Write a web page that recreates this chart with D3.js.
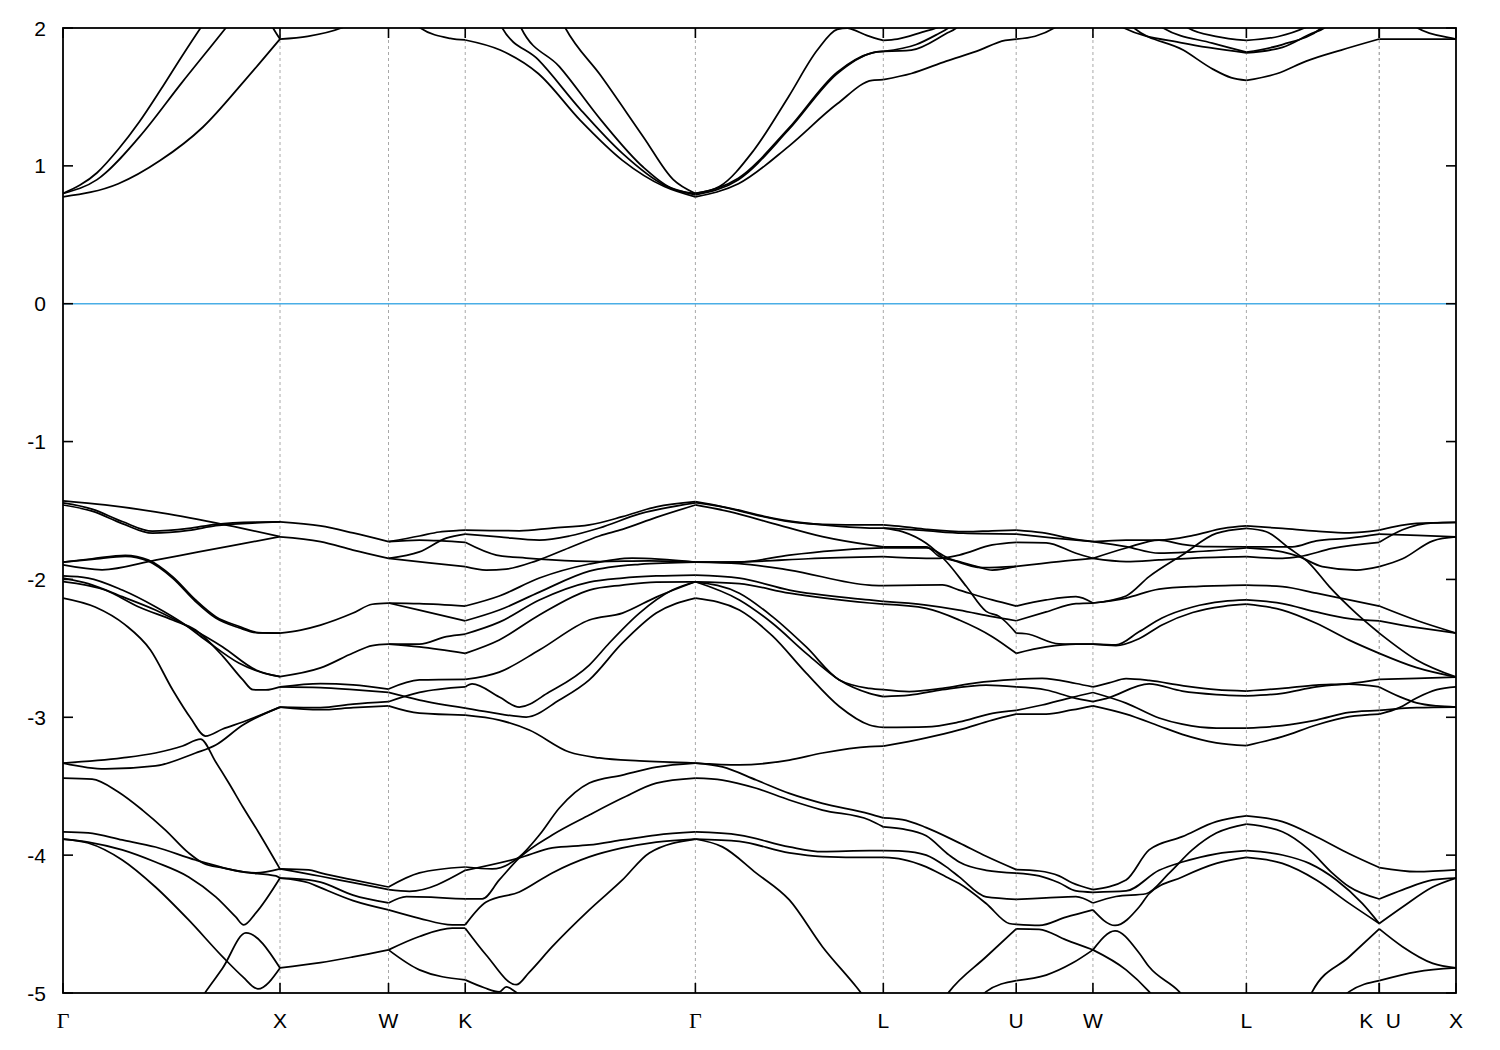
<!DOCTYPE html>
<html><head><meta charset="utf-8">
<script src="https://cdn.jsdelivr.net/npm/d3@7"></script>
<style>html,body{margin:0;padding:0;background:#fff;} svg{display:block;}</style>
</head><body>
<svg id="chart" width="1500" height="1050"></svg>
<script>
// ---- high-symmetry path ----
const kLabels = ["Γ","X","W","K","Γ","L","U","W","L","K","U","X"];
const kPos    = [0, 1, 1.5, 1.8536, 2.9142, 3.7802, 4.3926, 4.7462, 5.4533, 6.0657, 6.0657, 6.4193];
const segPairs = [[0,1],[1,2],[2,3],[3,4],[4,5],[5,6],[6,7],[7,8],[8,9],[10,11]];
const yTicks = [2,1,0,-1,-2,-3,-4,-5];
const fermiLevel = [0];

// ---- valence bands, per segment: lines of [t along segment, E (eV)] ----
const valGX = [
 [[0,-1.43],[.194,-1.46],[.426,-1.51],[.704,-1.59],[1,-1.69]],
 [[0,-1.445],[.134,-1.49],[.273,-1.58],[.412,-1.65],[.579,-1.63],[.704,-1.60],[.889,-1.585],[1,-1.583]],
 [[0,-1.46],[.134,-1.505],[.273,-1.595],[.412,-1.665],[.579,-1.645],[.704,-1.61],[.889,-1.59],[1,-1.583]],
 [[0,-1.895],[.18,-1.93],[.426,-1.86],[.625,-1.80],[.829,-1.74],[1,-1.69]],
 [[0,-1.874],[.134,-1.85],[.287,-1.826],[.394,-1.86],[.505,-1.98],[.611,-2.149],[.704,-2.27],[.810,-2.34],[.9,-2.385],[1,-2.389]],
 [[0,-1.874],[.134,-1.855],[.287,-1.832],[.394,-1.868],[.505,-1.99],[.611,-2.16],[.704,-2.28],[.810,-2.35],[.9,-2.388],[1,-2.389]],
 [[0,-1.975],[.116,-1.99],[.273,-2.077],[.426,-2.198],[.551,-2.316],[.657,-2.439],[.810,-2.606],[.958,-2.693],[1,-2.705]],
 [[0,-1.99],[.116,-2.03],[.273,-2.125],[.426,-2.222],[.579,-2.345],[.736,-2.49],[.889,-2.657],[1,-2.705]],
 [[0,-2.015],[.194,-2.077],[.347,-2.198],[.505,-2.294],[.611,-2.367],[.736,-2.556],[.829,-2.729],[.875,-2.80],[.935,-2.802],[1,-2.78]],
 [[0,-2.135],[.148,-2.20],[.287,-2.33],[.403,-2.512],[.505,-2.80],[.588,-3.005],[.657,-3.136],[.736,-3.085],[.829,-3.034],[1,-2.926]],
 [[0,-3.332],[.194,-3.375],[.426,-3.353],[.611,-3.259],[.704,-3.201],[.829,-3.056],[1,-2.926]],
 [[0,-3.332],[.273,-3.295],[.426,-3.259],[.551,-3.208],[.634,-3.158],[.704,-3.325],[.764,-3.477],[.829,-3.651],[.903,-3.839],[1,-4.10]],
 [[0,-3.441],[.134,-3.448],[.255,-3.542],[.366,-3.673],[.472,-3.818],[.579,-3.984],[.644,-4.057],[.736,-4.093],[.889,-4.129],[1,-4.10]],
 [[0,-3.832],[.116,-3.839],[.273,-3.89],[.426,-3.941],[.611,-4.035],[.829,-4.122],[.981,-4.151],[1,-4.166]],
 [[0,-3.883],[.116,-3.905],[.273,-3.962],[.426,-4.05],[.579,-4.158],[.704,-4.303],[.796,-4.448],[.833,-4.506],[.889,-4.419],[1,-4.166]],
 [[0,-3.883],[.116,-3.912],[.273,-4.035],[.426,-4.231],[.579,-4.47],[.736,-4.738],[.829,-4.883],[.898,-4.97],[1,-4.818]],
 [[.4,-5.5],[.542,-5.25],[.657,-4.992],[.736,-4.818],[.843,-4.564],[1,-4.818]]
];
const valXW = [
 [[0,-1.583],[.373,-1.612],[.673,-1.663],[1,-1.726]],
 [[0,-1.692],[.373,-1.726],[.673,-1.787],[1,-1.847]],
 [[0,-2.389],[.191,-2.367],[.373,-2.331],[.673,-2.244],[.85,-2.18],[1,-2.171]],
 [[0,-2.705],[.373,-2.642],[.673,-2.534],[.85,-2.48],[1,-2.47]],
 [[0,-2.78],[.373,-2.755],[.673,-2.765],[1,-2.795]],
 [[0,-2.78],[.373,-2.785],[.673,-2.80],[1,-2.82]],
 [[0,-2.926],[.373,-2.93],[.673,-2.905],[1,-2.887]],
 [[0,-2.926],[.373,-2.945],[.673,-2.93],[1,-2.917]],
 [[0,-4.10],[.264,-4.107],[.373,-4.129],[.673,-4.18],[1,-4.231]],
 [[0,-4.10],[.373,-4.153],[.673,-4.20],[1,-4.25]],
 [[0,-4.166],[.264,-4.18],[.373,-4.196],[.673,-4.29],[1,-4.347]],
 [[0,-4.166],[.264,-4.20],[.373,-4.236],[.673,-4.33],[1,-4.397]],
 [[0,-4.818],[.373,-4.78],[.673,-4.738],[1,-4.687]]
];
const valWK = [
 [[0,-1.726],[.403,-1.685],[.662,-1.656],[.922,-1.645],[1,-1.642]],
 [[0,-1.726],[.403,-1.714],[.7,-1.72],[1,-1.731]],
 [[0,-1.847],[.403,-1.80],[.753,-1.70],[1,-1.671]],
 [[0,-1.847],[.532,-1.88],[1,-1.907]],
 [[0,-2.171],[.403,-2.175],[1,-2.193]],
 [[0,-2.171],[.403,-2.222],[1,-2.30]],
 [[0,-2.47],[.403,-2.47],[.753,-2.415],[1,-2.396]],
 [[0,-2.47],[.403,-2.49],[1,-2.536]],
 [[0,-2.795],[.403,-2.729],[1,-2.725]],
 [[0,-2.82],[.403,-2.875],[1,-2.933]],
 [[0,-2.887],[.403,-2.82],[1,-2.78]],
 [[0,-2.917],[.403,-2.97],[1,-2.984]],
 [[0,-4.231],[.403,-4.129],[1,-4.086]],
 [[0,-4.25],[.273,-4.262],[1,-4.11]],
 [[0,-4.347],[.234,-4.30],[1,-4.318]],
 [[0,-4.397],[.403,-4.458],[.831,-4.506],[1,-4.506]],
 [[0,-4.687],[.403,-4.59],[.831,-4.53],[1,-4.53]],
 [[0,-4.687],[.403,-4.832],[1,-4.905]]
];
const valKG = [
 [[0,-1.642],[.235,-1.647],[.378,-1.627],[.539,-1.605],[.683,-1.545],[.830,-1.473],[1,-1.436]],
 [[0,-1.671],[.148,-1.692],[.322,-1.714],[.452,-1.685],[.583,-1.627],[.757,-1.525],[1,-1.445]],
 [[0,-1.907],[.091,-1.932],[.178,-1.925],[.309,-1.865],[.452,-1.77],[.583,-1.685],[.683,-1.637],[.830,-1.55],[1,-1.46]],
 [[0,-1.731],[.135,-1.823],[.265,-1.845],[.378,-1.859],[.583,-1.87],[.8,-1.866],[1,-1.874]],
 [[0,-2.193],[.148,-2.12],[.322,-1.99],[.539,-1.888],[.726,-1.845],[1,-1.874]],
 [[0,-2.30],[.148,-2.222],[.322,-2.092],[.539,-1.94],[.757,-1.89],[1,-1.874]],
 [[0,-2.396],[.148,-2.31],[.322,-2.149],[.539,-2.019],[.683,-1.99],[.830,-1.975],[1,-1.968]],
 [[0,-2.536],[.148,-2.439],[.322,-2.258],[.539,-2.077],[.683,-2.041],[.830,-2.019],[1,-2.017]],
 [[0,-2.725],[.148,-2.672],[.322,-2.512],[.539,-2.294],[.683,-2.244],[.830,-2.128],[1,-2.017]],
 [[0,-2.78],[.03,-2.758],[.148,-2.853],[.235,-2.926],[.365,-2.817],[.539,-2.621],[.626,-2.461],[.757,-2.244],[.9,-2.077],[1,-2.017]],
 [[0,-2.933],[.104,-2.962],[.265,-2.998],[.409,-2.875],[.539,-2.729],[.683,-2.461],[.830,-2.244],[1,-2.135]],
 [[0,-2.984],[.148,-3.02],[.278,-3.092],[.452,-3.252],[.583,-3.295],[.757,-3.317],[1,-3.332]],
 [[0,-4.086],[.117,-4.10],[.235,-4.013],[.322,-3.854],[.409,-3.658],[.539,-3.477],[.683,-3.419],[.830,-3.361],[1,-3.332]],
 [[0,-4.11],[.235,-4.02],[.378,-3.948],[.539,-3.926],[.683,-3.89],[.830,-3.854],[1,-3.832]],
 [[0,-4.318],[.074,-4.318],[.148,-4.18],[.235,-4.02],[.378,-3.854],[.539,-3.709],[.683,-3.586],[.830,-3.477],[1,-3.441]],
 [[0,-4.506],[.091,-4.34],[.235,-4.267],[.378,-4.129],[.539,-4.013],[.683,-3.948],[.830,-3.905],[1,-3.883]],
 [[0,-4.53],[.091,-4.724],[.222,-4.94],[.278,-4.85],[.378,-4.664],[.539,-4.397],[.683,-4.18],[.8,-3.984],[1,-3.883]],
 [[0,-4.905],[.083,-4.962],[.148,-4.992],[.178,-4.955],[.213,-4.985],[.278,-5.08]]
];
const valGL = [
 [[0,-1.436],[.144,-1.473],[.324,-1.533],[.5,-1.581],[.676,-1.60],[.926,-1.605],[1,-1.605]],
 [[0,-1.443],[.181,-1.482],[.41,-1.555],[.676,-1.605],[.926,-1.627],[1,-1.627]],
 [[0,-1.46],[.181,-1.508],[.41,-1.593],[.676,-1.69],[.926,-1.75],[1,-1.764]],
 [[0,-1.874],[.234,-1.874],[.5,-1.823],[.926,-1.774],[1,-1.772]],
 [[0,-1.874],[.3,-1.87],[.6,-1.85],[1,-1.835]],
 [[0,-1.874],[.234,-1.885],[.5,-1.932],[.926,-2.041],[1,-2.045]],
 [[0,-1.968],[.234,-1.99],[.5,-2.077],[.926,-2.149],[1,-2.16]],
 [[0,-2.017],[.234,-2.03],[.5,-2.10],[.926,-2.171],[1,-2.18]],
 [[0,-2.017],[.234,-2.10],[.41,-2.27],[.59,-2.49],[.766,-2.729],[.926,-2.79],[1,-2.80]],
 [[0,-2.017],[.234,-2.149],[.41,-2.318],[.59,-2.536],[.766,-2.729],[.926,-2.826],[1,-2.85]],
 [[0,-2.135],[.234,-2.222],[.41,-2.41],[.59,-2.68],[.766,-2.922],[.926,-3.056],[1,-3.074]],
 [[0,-3.332],[.234,-3.346],[.5,-3.31],[.676,-3.259],[.926,-3.213],[1,-3.21]],
 [[0,-3.332],[.144,-3.36],[.324,-3.455],[.5,-3.552],[.676,-3.624],[.926,-3.70],[1,-3.73]],
 [[0,-3.441],[.144,-3.455],[.324,-3.515],[.5,-3.60],[.676,-3.673],[.926,-3.745],[1,-3.795]],
 [[0,-3.832],[.234,-3.854],[.5,-3.94],[.676,-3.975],[.926,-3.968],[1,-3.968]],
 [[0,-3.883],[.234,-3.90],[.5,-3.984],[.676,-4.01],[.926,-4.017],[1,-4.017]],
 [[0,-3.883],[.144,-3.94],[.324,-4.13],[.5,-4.325],[.676,-4.664],[.856,-4.955],[.95,-5.12]]
];
const valLU = [
 [[0,-1.605],[.143,-1.617],[.323,-1.636],[.624,-1.654],[.82,-1.647],[1,-1.642]],
 [[0,-1.627],[.3,-1.645],[.6,-1.665],[1,-1.671]],
 [[0,-1.627],[.143,-1.653],[.323,-1.738],[.474,-1.87],[.624,-2.05],[.774,-2.232],[.872,-2.268],[1,-2.389]],
 [[0,-1.764],[.323,-1.764],[.421,-1.834],[.571,-1.87],[.699,-1.906],[.82,-1.932],[1,-1.906]],
 [[0,-1.772],[.323,-1.772],[.5,-1.85],[.75,-1.915],[1,-1.906]],
 [[0,-1.835],[.323,-1.847],[.421,-1.847],[.571,-1.823],[.82,-1.75],[1,-1.731]],
 [[0,-2.045],[.444,-2.04],[.571,-2.077],[.82,-2.149],[1,-2.193]],
 [[0,-2.16],[.323,-2.186],[.571,-2.222],[.82,-2.27],[1,-2.30]],
 [[0,-2.18],[.323,-2.21],[.571,-2.294],[.82,-2.415],[1,-2.536]],
 [[0,-2.80],[.195,-2.814],[.444,-2.79],[.699,-2.75],[1,-2.725]],
 [[0,-2.85],[.195,-2.84],[.444,-2.80],[.774,-2.766],[1,-2.78]],
 [[0,-3.074],[.323,-3.07],[.571,-3.034],[.82,-2.972],[1,-2.95]],
 [[0,-3.21],[.323,-3.15],[.571,-3.092],[.82,-3.02],[1,-2.977]],
 [[0,-3.73],[.143,-3.742],[.323,-3.80],[.571,-3.911],[.774,-4.008],[1,-4.105]],
 [[0,-3.795],[.143,-3.81],[.323,-3.86],[.496,-4.00],[.571,-4.05],[.774,-4.11],[1,-4.13]],
 [[0,-3.968],[.143,-3.97],[.323,-4.0],[.474,-4.085],[.571,-4.158],[.774,-4.303],[1,-4.32]],
 [[0,-4.017],[.143,-4.03],[.323,-4.085],[.474,-4.158],[.571,-4.206],[.774,-4.351],[.947,-4.496],[1,-4.503]],
 [[.35,-5.2],[.496,-4.99],[.774,-4.737],[1,-4.535]],
 [[.6,-5.2],[.774,-4.99],[1,-4.91]]
];
const valUW = [
 [[0,-1.642],[.338,-1.661],[.779,-1.71],[1,-1.726]],
 [[0,-1.671],[.5,-1.70],[1,-1.726]],
 [[0,-1.731],[.39,-1.734],[.779,-1.81],[1,-1.847]],
 [[0,-1.906],[.558,-1.87],[1,-1.847]],
 [[0,-2.193],[.39,-2.149],[.779,-2.125],[1,-2.171]],
 [[0,-2.30],[.39,-2.236],[.779,-2.175],[1,-2.171]],
 [[0,-2.389],[.13,-2.394],[.558,-2.467],[1,-2.47]],
 [[0,-2.536],[.39,-2.49],[.779,-2.47],[1,-2.47]],
 [[0,-2.725],[.338,-2.718],[.779,-2.755],[1,-2.78]],
 [[0,-2.78],[.39,-2.802],[.727,-2.855],[1,-2.887]],
 [[0,-2.95],[.338,-2.911],[.727,-2.855],[1,-2.82]],
 [[0,-2.977],[.39,-2.977],[.727,-2.947],[1,-2.917]],
 [[0,-4.105],[.299,-4.115],[.558,-4.15],[.727,-4.20],[1,-4.25]],
 [[0,-4.13],[.299,-4.15],[.558,-4.20],[.779,-4.26],[1,-4.27]],
 [[0,-4.32],[.39,-4.31],[.779,-4.30],[1,-4.347]],
 [[0,-4.503],[.299,-4.51],[.649,-4.45],[1,-4.397]],
 [[0,-4.535],[.299,-4.538],[.649,-4.615],[1,-4.687]],
 [[0,-4.91],[.39,-4.87],[.727,-4.785],[1,-4.687]]
];
const valWL = [
 [[0,-1.726],[.216,-1.714],[.431,-1.714],[.654,-1.68],[.85,-1.63],[1,-1.612]],
 [[0,-1.726],[.216,-1.762],[.431,-1.81],[.654,-1.80],[1,-1.772]],
 [[0,-1.847],[.216,-1.772],[.431,-1.714],[.582,-1.745],[.758,-1.762],[1,-1.764]],
 [[0,-1.847],[.216,-1.87],[.431,-1.859],[.654,-1.845],[1,-1.835]],
 [[0,-2.171],[.216,-2.12],[.366,-1.98],[.582,-1.823],[.804,-1.666],[1,-1.63]],
 [[0,-2.171],[.216,-2.135],[.431,-2.07],[.693,-2.05],[1,-2.041]],
 [[0,-2.47],[.15,-2.48],[.3,-2.43],[.45,-2.33],[.65,-2.24],[.85,-2.195],[1,-2.18]],
 [[0,-2.47],[.15,-2.475],[.3,-2.38],[.45,-2.28],[.65,-2.20],[.85,-2.16],[1,-2.149]],
 [[0,-2.78],[.105,-2.751],[.216,-2.72],[.366,-2.733],[.582,-2.77],[.804,-2.80],[1,-2.81]],
 [[0,-2.887],[.085,-2.865],[.366,-2.758],[.582,-2.81],[.804,-2.835],[1,-2.845]],
 [[0,-2.82],[.216,-2.897],[.431,-3.005],[.582,-3.05],[.804,-3.078],[1,-3.078]],
 [[0,-2.917],[.216,-2.977],[.431,-3.063],[.582,-3.124],[.804,-3.185],[1,-3.205]],
 [[0,-4.25],[.216,-4.18],[.366,-3.962],[.582,-3.866],[.804,-3.757],[1,-3.716]],
 [[0,-4.27],[.216,-4.26],[.431,-4.11],[.582,-4.05],[.804,-3.99],[1,-3.968]],
 [[0,-4.347],[.15,-4.30],[.346,-4.28],[.497,-4.13],[.647,-3.962],[.804,-3.84],[1,-3.775]],
 [[0,-4.397],[.144,-4.51],[.301,-4.376],[.366,-4.28],[.582,-4.158],[.804,-4.06],[1,-4.017]],
 [[0,-4.687],[.144,-4.55],[.301,-4.71],[.366,-4.81],[.562,-4.99],[.66,-5.12]],
 [[0,-4.687],[.216,-4.832],[.366,-4.99],[.45,-5.1]]
];
const valLK = [
 [[0,-1.612],[.271,-1.63],[.526,-1.65],[.774,-1.662],[1,-1.642]],
 [[0,-1.63],[.15,-1.654],[.323,-1.774],[.474,-1.883],[.624,-2.052],[.827,-2.246],[1,-2.389]],
 [[0,-1.764],[.346,-1.764],[.526,-1.72],[.774,-1.70],[1,-1.671]],
 [[0,-1.772],[.271,-1.80],[.398,-1.835],[.571,-1.907],[.827,-1.932],[1,-1.907]],
 [[0,-1.835],[.271,-1.847],[.398,-1.835],[.647,-1.775],[1,-1.731]],
 [[0,-2.041],[.271,-2.052],[.526,-2.10],[.774,-2.149],[1,-2.193]],
 [[0,-2.149],[.271,-2.175],[.526,-2.236],[.774,-2.284],[1,-2.30]],
 [[0,-2.18],[.271,-2.222],[.526,-2.318],[.774,-2.44],[1,-2.536]],
 [[0,-2.81],[.271,-2.79],[.526,-2.766],[.774,-2.755],[1,-2.725]],
 [[0,-2.845],[.271,-2.826],[.526,-2.78],[.774,-2.76],[1,-2.78]],
 [[0,-3.078],[.271,-3.06],[.526,-3.02],[.774,-2.965],[1,-2.95]],
 [[0,-3.205],[.271,-3.14],[.526,-3.056],[.774,-2.996],[1,-2.977]],
 [[0,-3.716],[.271,-3.757],[.526,-3.866],[.774,-3.99],[1,-4.09]],
 [[0,-3.775],[.271,-3.83],[.474,-3.962],[.647,-4.13],[.774,-4.23],[1,-4.318]],
 [[0,-3.968],[.271,-3.999],[.474,-4.06],[.677,-4.18],[.872,-4.35],[1,-4.496]],
 [[0,-4.017],[.271,-4.06],[.526,-4.18],[.774,-4.35],[1,-4.496]],
 [[.4,-5.2],[.496,-4.99],[.774,-4.737],[1,-4.535]],
 [[.6,-5.15],[.774,-4.99],[1,-4.91]]
];
const valUX = [
 [[0,-1.642],[.487,-1.594],[1,-1.586]],
 [[0,-1.671],[.5,-1.68],[1,-1.692]],
 [[0,-1.731],[.303,-1.64],[.7,-1.59],[1,-1.586]],
 [[0,-1.907],[.303,-1.85],[.7,-1.72],[1,-1.692]],
 [[0,-2.193],[.5,-2.30],[1,-2.389]],
 [[0,-2.30],[.5,-2.35],[1,-2.389]],
 [[0,-2.389],[.487,-2.584],[1,-2.708]],
 [[0,-2.536],[.487,-2.64],[1,-2.708]],
 [[0,-2.725],[.487,-2.718],[1,-2.708]],
 [[0,-2.78],[.263,-2.85],[.487,-2.895],[.75,-2.918],[1,-2.926]],
 [[0,-2.95],[.487,-2.93],[1,-2.926]],
 [[0,-2.977],[.263,-2.93],[.487,-2.86],[.75,-2.80],[1,-2.78]],
 [[0,-4.09],[.487,-4.12],[1,-4.107]],
 [[0,-4.318],[.303,-4.252],[.697,-4.18],[1,-4.166]],
 [[0,-4.496],[.303,-4.376],[.697,-4.231],[1,-4.166]],
 [[0,-4.535],[.303,-4.664],[.697,-4.785],[1,-4.818]],
 [[0,-4.91],[.487,-4.846],[1,-4.818]]
];

// ---- conduction bands ----
const conGX = [
 [[0,0.80],[.157,0.95],[.255,1.12],[.352,1.32],[.449,1.55],[.546,1.79],[.634,2.0],[.7,2.15]],
 [[0,0.80],[.157,0.90],[.352,1.21],[.546,1.60],[.75,2.0],[.8,2.1]],
 [[0,0.775],[.255,0.87],[.449,1.04],[.644,1.28],[.838,1.62],[1,1.92]],
 [[.935,2.1],[.968,2.0],[1,1.92]]
];
const conXW = [[[0,1.92],[.255,1.94],[.564,2.0],[.7,2.05]]];
const conWK = [[[.3,2.08],[.416,2.0],[.805,1.925],[1,1.913]]];
const conKG = [
 [[0,1.913],[.152,1.84],[.317,1.67],[.5,1.33],[.683,1.04],[.865,0.85],[1,0.775]],
 [[.12,2.15],[.161,2.0],[.317,1.77],[.5,1.41],[.683,1.09],[.865,0.86],[1,0.79]],
 [[.2,2.2],[.243,2.0],[.409,1.72],[.591,1.33],[.774,0.99],[.922,0.82],[1,0.80]],
 [[.39,2.15],[.435,2.0],[.591,1.65],[.774,1.21],[.904,0.90],[1,0.80]]
];
const conGL = [
 [[0,0.80],[.128,0.85],[.309,1.11],[.495,1.50],[.649,1.84],[.755,1.99],[.809,2.0],[.835,1.99],[.915,1.945],[1,1.91]],
 [[0,0.79],[.229,0.90],[.495,1.26],[.755,1.67],[.941,1.82],[1,1.83]],
 [[0,0.80],[.229,0.91],[.495,1.27],[.755,1.68],[.941,1.82],[1,1.83]],
 [[0,0.775],[.229,0.87],[.495,1.14],[.755,1.45],[.941,1.62],[1,1.625]]
];
const conLU = [
 [[0,1.91],[.105,1.92],[.293,1.97],[.398,2.0],[.5,2.05]],
 [[0,1.83],[.211,1.84],[.474,1.96],[.549,2.0],[.6,2.05]],
 [[0,1.83],[.248,1.88],[.398,1.95],[.489,2.0],[.55,2.05]],
 [[0,1.625],[.211,1.67],[.474,1.76],[.699,1.83],[.917,1.91],[1,1.92]]
];
const conUW = [[[0,1.92],[.247,1.94],[.494,2.0],[.62,2.05]]];
const conWL = [
 [[.2,2.07],[.268,2.0],[.588,1.84],[.784,1.70],[.9,1.64],[1,1.62]],
 [[.15,2.05],[.203,2.0],[.588,1.89],[1,1.82]],
 [[.4,2.05],[.458,2.0],[.778,1.89],[1,1.825]],
 [[.58,2.03],[.621,2.0],[.8,1.94],[1,1.91]]
];
const conLK = [
 [[0,1.62],[.233,1.67],[.451,1.76],[.714,1.84],[1,1.92]],
 [[0,1.82],[.271,1.86],[.489,1.96],[.586,2.0],[.65,2.06]],
 [[0,1.825],[.271,1.88],[.564,2.0],[.62,2.05]],
 [[0,1.91],[.248,1.94],[.436,2.0],[.5,2.03]]
];
const conUX = [
 [[0,1.92],[.5,1.92],[1,1.92]],
 [[.4,2.08],[.5,2.0],[.908,1.93],[1,1.92]]
];

const valence = [valGX, valXW, valWK, valKG, valGL, valLU, valUW, valWL, valLK, valUX];
const conduction = [conGX, conXW, conWK, conKG, conGL, conLU, conUW, conWL, conLK, conUX];

// ---- drawing ----
const svg = d3.select("#chart");
const X0 = 63, X1 = 1456, Y0 = 28, Y1 = 993;
const x = d3.scaleLinear().domain([0, kPos[kPos.length-1]]).range([X0, X1]);
const y = d3.scaleLinear().domain([-5, 2]).range([Y1, Y0]);

svg.append("rect").attr("width",1500).attr("height",1050).attr("fill","#fff");
svg.append("defs").append("clipPath").attr("id","clip")
  .append("rect").attr("x",X0).attr("y",Y0).attr("width",X1-X0).attr("height",Y1-Y0);

const plot = svg.append("g").attr("clip-path","url(#clip)");

// vertical dashed high-symmetry lines
const inner = kPos.filter((k,i)=> i>0 && i<kPos.length-1);
plot.selectAll("line.hs").data(inner).enter().append("line")
  .attr("x1",d=>x(d)).attr("x2",d=>x(d)).attr("y1",Y0).attr("y2",Y1)
  .attr("stroke","#a8a8a8").attr("stroke-width",1).attr("stroke-dasharray","3,3");

// Fermi level
plot.selectAll("line.ef").data(fermiLevel).enter().append("line")
  .attr("x1",X0).attr("x2",X1).attr("y1",d=>y(d)).attr("y2",d=>y(d))
  .attr("stroke","#4aaee6").attr("stroke-width",1.6);

const lineGen = d3.line().x(d=>x(d[0])).y(d=>y(d[1])).curve(d3.curveMonotoneX);
function segLines(groups){
  const out = [];
  groups.forEach((lines, si) => {
    const k0 = kPos[segPairs[si][0]], k1 = kPos[segPairs[si][1]];
    lines.forEach(pts => out.push(pts.map(p => [k0 + p[0]*(k1-k0), p[1]])));
  });
  return out;
}
const allLines = segLines(valence).concat(segLines(conduction));
plot.selectAll("path.band").data(allLines).enter().append("path")
  .attr("d", lineGen).attr("fill","none").attr("stroke","#000")
  .attr("stroke-width",1.75).attr("stroke-linejoin","round");

// frame
svg.append("rect").attr("x",X0).attr("y",Y0).attr("width",X1-X0).attr("height",Y1-Y0)
  .attr("fill","none").attr("stroke","#000").attr("stroke-width",1.8);

// y ticks (inward, both sides)
const tl = 10;
yTicks.forEach(v=>{
  svg.append("line").attr("x1",X0).attr("x2",X0+tl).attr("y1",y(v)).attr("y2",y(v)).attr("stroke","#000").attr("stroke-width",1.6);
  svg.append("line").attr("x1",X1).attr("x2",X1-tl).attr("y1",y(v)).attr("y2",y(v)).attr("stroke","#000").attr("stroke-width",1.6);
});
svg.selectAll("text.yl").data(yTicks).enter().append("text")
  .attr("x",46).attr("y",d=>y(d)).attr("dy","0.36em").attr("text-anchor","end")
  .attr("font-family","Liberation Sans, Arial, sans-serif").attr("font-size",21)
  .text(d=>d);

// x ticks (inward, top and bottom)
kPos.forEach(k=>{
  svg.append("line").attr("x1",x(k)).attr("x2",x(k)).attr("y1",Y1).attr("y2",Y1-tl).attr("stroke","#000").attr("stroke-width",1.6);
  svg.append("line").attr("x1",x(k)).attr("x2",x(k)).attr("y1",Y0).attr("y2",Y0+tl).attr("stroke","#000").attr("stroke-width",1.6);
});
const labelShift = kLabels.map((l,i)=> (i>0 && kPos[i]===kPos[i-1]) ? 14 : (i<kPos.length-1 && kPos[i]===kPos[i+1]) ? -13 : 0);
svg.selectAll("text.xl").data(kLabels).enter().append("text")
  .attr("x",(d,i)=>x(kPos[i])+labelShift[i]).attr("y",1028).attr("text-anchor","middle")
  .attr("font-family",d=> d==="Γ" ? "Liberation Serif, DejaVu Serif, serif" : "Liberation Sans, Arial, sans-serif")
  .attr("font-size",d=> d==="Γ" ? 22 : 21)
  .text(d=>d);
</script>
</body></html>
